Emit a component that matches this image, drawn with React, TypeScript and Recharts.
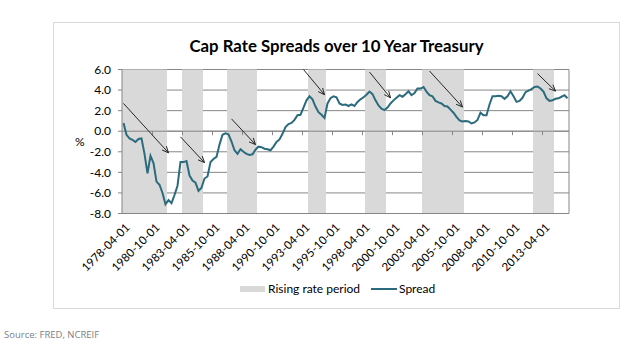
import React from "react";
import {
  ComposedChart,
  Bar,
  Line,
  XAxis,
  YAxis,
  CartesianGrid,
  ReferenceLine,
} from "recharts";

// quarterly spread (%), 1978-04-01 .. 2015-04-01
const spread = [
  0.8, -0.35, -0.7, -0.85, -1.05, -0.75, -0.7, -2.2, -4.1, -2.4,
  -3.1, -4.9, -5.2, -6.0, -7.1, -6.7, -7.0, -6.2, -5.3, -3.0,
  -3.0, -2.9, -4.3, -4.8, -5.0, -5.8, -5.5, -4.6, -4.4, -3.0,
  -2.7, -2.5, -1.3, -0.35, -0.2, -0.3, -1.0, -1.85, -2.2, -1.75,
  -2.0, -2.2, -2.3, -2.25, -1.8, -1.5, -1.55, -1.7, -1.75, -1.85,
  -1.5, -1.05, -0.8, -0.25, 0.4, 0.7, 0.8, 1.1, 1.55, 1.6,
  2.3, 3.0, 3.4, 3.1, 2.4, 1.85, 1.6, 1.3, 2.7, 3.2,
  3.4, 3.3, 2.7, 2.55, 2.6, 2.45, 2.6, 2.45, 2.85, 3.1,
  3.3, 3.55, 3.85, 3.6, 3.0, 2.5, 2.2, 2.05, 2.3, 2.7,
  3.0, 3.25, 3.5, 3.35, 3.6, 3.88, 3.5, 3.7, 4.15, 4.15,
  4.3, 3.85, 3.5, 3.4, 2.95, 2.8, 2.7, 2.45, 2.4, 2.1,
  1.8, 1.4, 1.05, 0.95, 1.0, 0.95, 0.75, 0.85, 1.1, 1.8,
  1.55, 1.55, 2.6, 3.4, 3.4, 3.45, 3.4, 3.15, 3.4, 3.88,
  3.4, 2.85, 2.95, 3.25, 3.8, 3.95, 4.1, 4.3, 4.35, 4.15,
  3.85, 3.2, 2.95, 3.0, 3.15, 3.2, 3.35, 3.5, 3.2,
];

// shaded "rising rate" periods (first and last quarter)
const risingPeriods = [
  ["1978-04-01", "1981-10-01"],
  ["1983-04-01", "1984-10-01"],
  ["1987-01-01", "1989-04-01"],
  ["1993-10-01", "1995-01-01"],
  ["1998-07-01", "2000-01-01"],
  ["2003-04-01", "2006-07-01"],
  ["2012-07-01", "2014-01-01"],
];

// annotation arrows: [quarter, value] start -> end
const arrowStarts = [
  ["1978-04-01", 2.7],
  ["1983-01-01", -0.55],
  ["1987-04-01", 1.2],
  ["1993-04-01", 6.0],
  ["1998-10-01", 5.75],
  ["2003-10-01", 5.85],
  ["2012-10-01", 5.6],
];
const arrowEnds = [
  ["1982-01-01", -2.1],
  ["1985-01-01", -3.05],
  ["1989-04-01", -1.3],
  ["1995-01-01", 3.55],
  ["2000-07-01", 3.25],
  ["2006-07-01", 2.35],
  ["2014-04-01", 3.9],
];

const yTicks = [-8, -6, -4, -2, 0, 2, 4, 6];
const rightTicks = [0, 0.1, 0.2, 0.3, 0.4, 0.5, 0.6, 0.7, 0.8, 0.9, 1];

const quarterLabel = (i: number) => {
  const q = i + 1;
  const year = 1978 + Math.floor(q / 4);
  const month = (q % 4) * 3 + 1;
  return `${year}-${String(month).padStart(2, "0")}-01`;
};

const dates = spread.map((_, i) => quarterLabel(i));

const data = dates.map((date, i) => ({
  date,
  spread: spread[i],
  rising: risingPeriods.some(([a, b]) => date >= a && date <= b) ? 1 : null,
}));

const TEAL = "#2a6b7d";
const SHADE = "#d9d9d9";
const GRID = "#868686";
const FONT = "Lato, 'Open Sans', sans-serif";

const DateTick = (props: any) => {
  const { x, y, payload } = props;
  return (
    <g transform={`translate(${x + 4},${y + 4})`}>
      <text
        textAnchor="end"
        transform="rotate(-45)"
        dy="0.35em"
        fontSize={11.5}
        fontFamily={FONT}
        fill="#000"
      >
        {payload.value}
      </text>
    </g>
  );
};

// horizontal axis crossing at zero, with a tick mark every 10 quarters
const ZeroAxis = (props: any) => {
  const { x1, y1, x2 } = props;
  const step = ((x2 - x1) / dates.length) * 10;
  const marks = [];
  for (let k = 1; x1 + k * step < x2 - 1; k++) {
    const xm = Math.round(x1 + k * step) + 0.5;
    marks.push(<line key={k} x1={xm} x2={xm} y1={y1} y2={y1 + 4} stroke={GRID} />);
  }
  return (
    <g>
      <line x1={x1} x2={x2} y1={y1} y2={y1} stroke={GRID} />
      {marks}
    </g>
  );
};

const Arrow = (props: any) => {
  const { x1, y1, x2, y2 } = props;
  const ang = Math.atan2(y2 - y1, x2 - x1);
  const len = 7;
  const spreadAng = 0.42;
  const ax = x2 - len * Math.cos(ang - spreadAng);
  const ay = y2 - len * Math.sin(ang - spreadAng);
  const bx = x2 - len * Math.cos(ang + spreadAng);
  const by = y2 - len * Math.sin(ang + spreadAng);
  return (
    <g stroke="#262626" strokeWidth={1} fill="none">
      <line x1={x1} y1={y1} x2={x2} y2={y2} />
      <polyline points={`${ax},${ay} ${x2},${y2} ${bx},${by}`} />
    </g>
  );
};

export default function App() {
  return (
    <div
      style={{
        position: "absolute",
        left: 0,
        top: 0,
        width: 640,
        height: 357,
        background: "#fff",
        fontFamily: FONT,
      }}
    >
      <div
        style={{
          position: "absolute",
          left: 53,
          top: 22,
          width: 567,
          height: 287,
          border: "1px solid #d9d9d9",
          boxSizing: "border-box",
        }}
      />
      <div
        style={{
          position: "absolute",
          left: 53,
          width: 567,
          top: 36,
          textAlign: "center",
          fontWeight: 700,
          fontSize: 16.8,
          lineHeight: "20px",
          color: "#000",
        }}
      >
        Cap Rate Spreads over 10 Year Treasury
      </div>

      <div style={{ position: "absolute", left: 0, top: 0 }}>
        <ComposedChart
          width={640}
          height={357}
          data={data}
          margin={{ top: 69.5, right: 61, bottom: 0, left: 0 }}
          barCategoryGap={0}
          barGap={0}
        >
          <CartesianGrid vertical={false} stroke={GRID} />
          <XAxis
            dataKey="date"
            interval={9}
            height={143.5}
            tick={<DateTick />}
            tickLine={false}
            axisLine={{ stroke: GRID }}
          />
          <YAxis
            domain={[-8, 6]}
            ticks={yTicks}
            interval={0}
            width={122}
            tickSize={4}
            tickMargin={7}
            tickLine={{ stroke: GRID }}
            axisLine={{ stroke: GRID }}
            tickFormatter={(v: number) => v.toFixed(1)}
            tick={{ fill: "#000", fontSize: 12, fontFamily: FONT }}
            label={{
              value: "%",
              position: "insideLeft",
              offset: 75,
              angle: 0,
              fill: "#000",
              fontSize: 12,
              fontFamily: FONT,
            }}
          />
          <YAxis
            yAxisId="right"
            orientation="right"
            domain={[0, 1]}
            ticks={rightTicks}
            interval={0}
            width={10}
            tick={false}
            tickSize={4}
            tickLine={{ stroke: GRID }}
            axisLine={{ stroke: GRID }}
          />
          <Bar
            yAxisId="right"
            dataKey="rising"
            fill={SHADE}
            isAnimationActive={false}
          />
          <ReferenceLine y={0} stroke={GRID} shape={ZeroAxis} />
          <Line
            dataKey="spread"
            type="linear"
            stroke={TEAL}
            strokeWidth={2}
            dot={false}
            activeDot={false}
            isAnimationActive={false}
          />
          {arrowStarts.map((s, i) => (
            <ReferenceLine
              key={i}
              ifOverflow="visible"
              segment={[
                { x: s[0], y: s[1] },
                { x: arrowEnds[i][0], y: arrowEnds[i][1] },
              ]}
              shape={Arrow}
            />
          ))}
        </ComposedChart>
      </div>

      {/* legend */}
      <div style={{ position: "absolute", left: 240, top: 286, width: 25, height: 6, background: SHADE }} />
      <div style={{ position: "absolute", left: 268, top: 282, fontSize: 12, lineHeight: "14px", color: "#000" }}>
        Rising rate period
      </div>
      <div style={{ position: "absolute", left: 371, top: 288, width: 26, height: 2, background: TEAL }} />
      <div style={{ position: "absolute", left: 399, top: 282, fontSize: 12, lineHeight: "14px", color: "#000" }}>
        Spread
      </div>

      <div
        style={{
          position: "absolute",
          left: 4,
          top: 328,
          fontSize: 9.5,
          lineHeight: "14px",
          color: "#808080",
          fontFamily: "'Open Sans', sans-serif",
        }}
      >
        Source: FRED, NCREIF
      </div>
    </div>
  );
}
